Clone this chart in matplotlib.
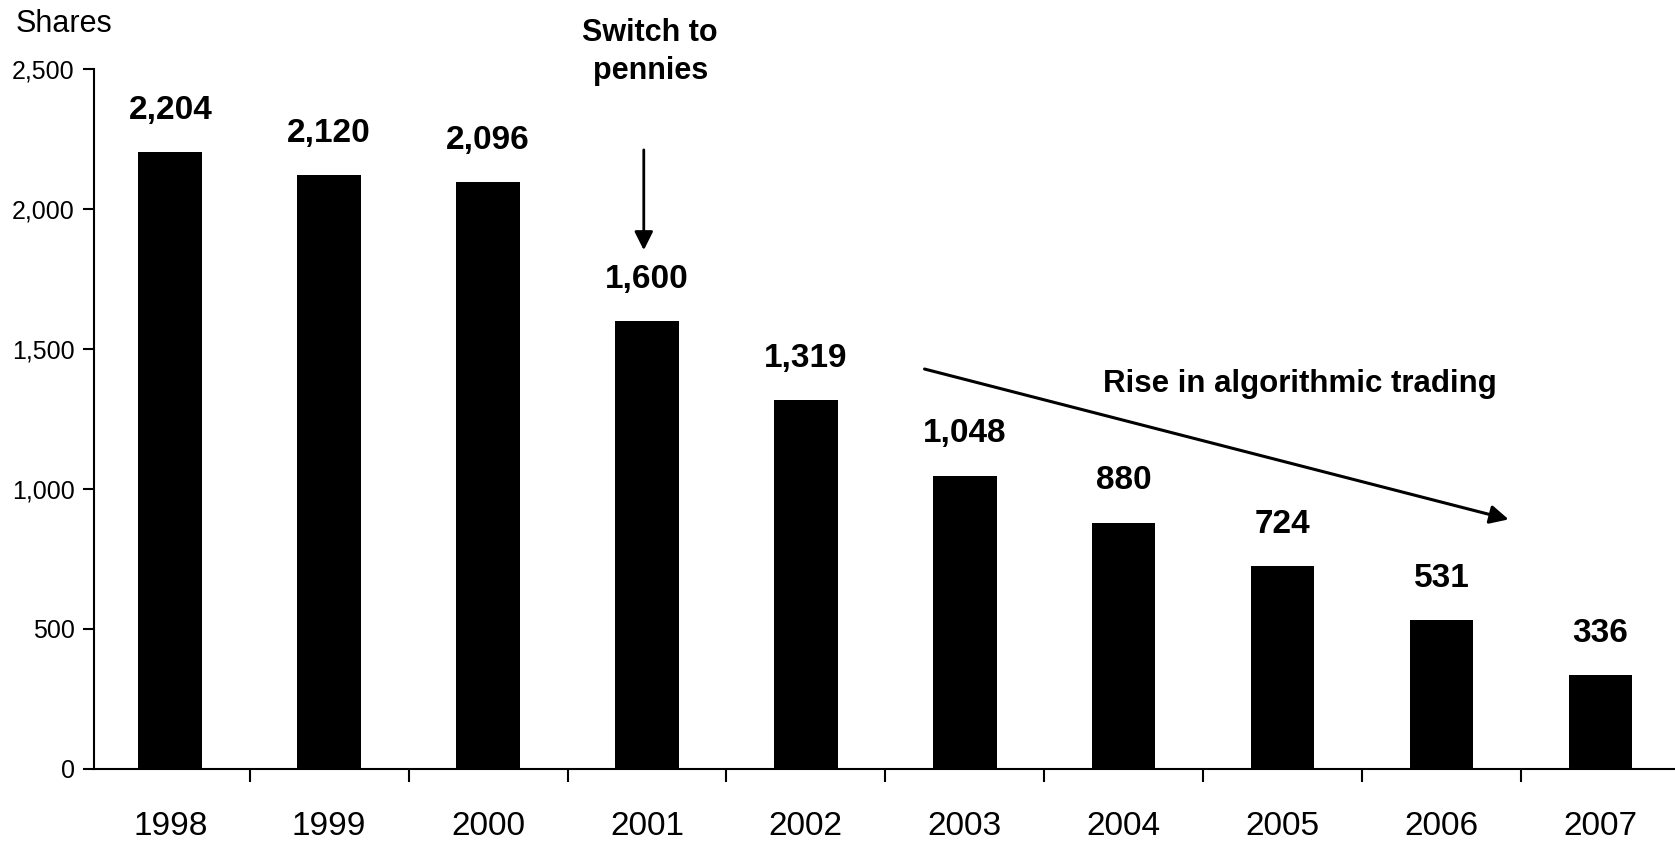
import matplotlib
matplotlib.use('Agg')
import matplotlib.pyplot as plt
from matplotlib import font_manager

years = ['1998', '1999', '2000', '2001', '2002', '2003', '2004', '2005', '2006', '2007']
shares = [2204, 2120, 2096, 1600, 1319, 1048, 880, 724, 531, 336]
yticks = [0, 500, 1000, 1500, 2000, 2500]

names = {f.name for f in font_manager.fontManager.ttflist}
fam = [f for f in ['Liberation Sans Narrow', 'Liberation Sans', 'DejaVu Sans'] if f in names]
plt.rcParams['font.family'] = fam

fig = plt.figure(figsize=(16.75, 8.42), dpi=100)
ax = fig.add_axes([94 / 1675, 1 - 769 / 842, 1 - 94 / 1675, 700 / 842])

x = list(range(len(years)))
ax.bar(x, shares, width=0.4, color='black')

for xi, v in zip(x, shares):
    ax.annotate(f'{v:,}', (xi, v), xytext=(0, 30), textcoords='offset points',
                ha='center', va='center', fontsize=24, fontweight='bold')

ax.set_xlim(-0.48, 9.47)
ax.set_ylim(0, 2500)
ax.set_yticks(yticks)
ax.set_yticklabels([f'{t:,}' for t in yticks], fontsize=18)

# year labels under bars, ticks between bars
ax.set_xticks(x)
ax.set_xticklabels(years, fontsize=24)
ax.tick_params(axis='x', which='major', length=0, pad=30)
ax.set_xticks([i - 0.5 for i in range(1, len(years))], minor=True)
ax.tick_params(axis='x', which='minor', length=9, width=1.5, direction='out')
ax.tick_params(axis='y', length=8, width=1.5, direction='out', pad=6)

for s in ['top', 'right']:
    ax.spines[s].set_visible(False)
ax.spines['left'].set_linewidth(1.5)
ax.spines['bottom'].set_linewidth(1.5)

fig.text(16 / 1675, 1 - 24 / 842, 'Shares', fontsize=22, ha='left', va='center')

# switch to pennies
ax.annotate('', xy=(2.98, 1843), xytext=(2.98, 2221),
            arrowprops=dict(arrowstyle='-|>', color='black', lw=2, mutation_scale=28))
ax.text(3.02, 2560, 'Switch to\npennies', ha='center', va='center', fontsize=22,
        fontweight='bold', linespacing=1.35, clip_on=False)

# rise in algorithmic trading
ax.annotate('', xy=(8.44, 889), xytext=(4.73, 1431),
            arrowprops=dict(arrowstyle='-|>', color='black', lw=2.2, mutation_scale=28))
ax.text(5.87, 1374, 'Rise in algorithmic trading', ha='left', va='center',
        fontsize=22.5, fontweight='bold')

fig.savefig('out.png', dpi=100)
